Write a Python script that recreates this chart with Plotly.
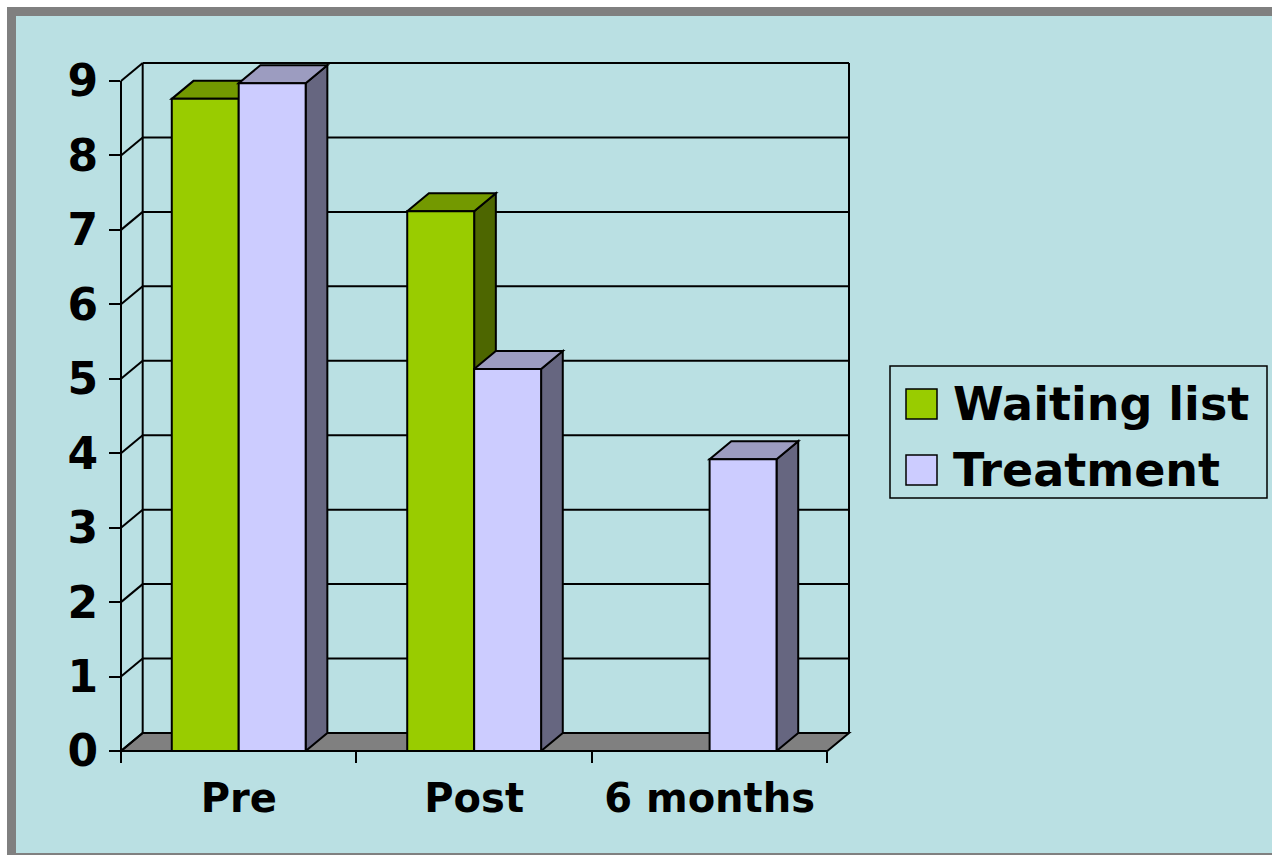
import plotly.graph_objects as go

# ---------------- data ----------------
categories = ["Pre", "Post", "6 months"]
series_names = ["Waiting list", "Treatment"]
waiting_list = [8.76, 7.25, None]
treatment = [8.97, 5.13, 3.92]
y_ticks = [0, 1, 2, 3, 4, 5, 6, 7, 8, 9]

# ---------------- geometry / style ----------------
W, H = 1272, 855
ML, MR, MT, MB = 121, 423, 63, 104
PW, PH = W - ML - MR, H - MT - MB

DX = 0.0921   # 3-D depth, category units
DY = 0.2418   # 3-D depth, value units
NCAT = len(categories)
XMAX = NCAT + DX
YTOP = max(y_ticks)
YMAX = YTOP + DY
BW = 0.2843   # bar width (category units)

COLS = [
    dict(front="#99CC00", top="#739900", side="#4D6600"),
    dict(front="#CCCCFF", top="#9C9CC0", side="#666680"),
]
OFFSETS = [-BW, 0.0]
BG = "#BAE0E3"
FRAME = "#808080"
FLOOR = "#808080"
FONT = "DejaVu Sans"


def px_x(p):
    return (p - ML) / PW


def px_y(p):
    return (H - MB - p) / PH


def X(x):
    return x / XMAX


def Y(y):
    return y / YMAX


shapes = []
# outer slide frame
shapes.append(dict(type="rect", xref="paper", yref="paper", layer="below",
                   x0=px_x(11.5), x1=px_x(W + 20), y0=px_y(11.5), y1=px_y(857.5),
                   line=dict(color=FRAME, width=9), fillcolor=BG))

LINE = dict(color="black", width=2)

# floor
shapes.append(dict(type="path", xref="paper", yref="paper", layer="below",
                   path=f"M{X(0)},{Y(0)} L{X(NCAT)},{Y(0)} L{X(NCAT + DX)},{Y(DY)} L{X(DX)},{Y(DY)} Z",
                   fillcolor=FLOOR, line=LINE))
# back wall gridlines
for v in y_ticks[1:]:
    shapes.append(dict(type="line", xref="paper", yref="paper", layer="below",
                       x0=X(DX), x1=X(NCAT + DX), y0=Y(v + DY), y1=Y(v + DY), line=LINE))
# side wall diagonals
for v in y_ticks:
    shapes.append(dict(type="line", xref="paper", yref="paper", layer="below",
                       x0=X(0), x1=X(DX), y0=Y(v), y1=Y(v + DY), line=LINE))
# wall verticals
for xv in (DX, NCAT + DX):
    shapes.append(dict(type="line", xref="paper", yref="paper", layer="below",
                       x0=X(xv), x1=X(xv), y0=Y(DY), y1=Y(YTOP + DY), line=LINE))
# front value axis line
shapes.append(dict(type="line", xref="paper", yref="paper", layer="below",
                   x0=X(0), x1=X(0), y0=Y(0), y1=Y(YTOP), line=LINE))

# bar tops and sides (3-D faces), computed from the data
centers = [i + 0.5 for i in range(NCAT)]
for i, c in enumerate(centers):
    for s, vals in enumerate([waiting_list, treatment]):
        v = vals[i]
        if v is None:
            continue
        x0 = c + OFFSETS[s]
        x1 = x0 + BW
        shapes.append(dict(type="path", xref="x", yref="y", layer="below",
                           path=f"M{x1},0 L{x1},{v} L{x1 + DX},{v + DY} L{x1 + DX},{DY} Z",
                           fillcolor=COLS[s]["side"], line=LINE))
        shapes.append(dict(type="path", xref="x", yref="y", layer="below",
                           path=f"M{x0},{v} L{x1},{v} L{x1 + DX},{v + DY} L{x0 + DX},{v + DY} Z",
                           fillcolor=COLS[s]["top"], line=LINE))

# manual legend
shapes.append(dict(type="rect", xref="paper", yref="paper", layer="above",
                   x0=px_x(890), x1=px_x(1267), y0=px_y(366), y1=px_y(498),
                   line=dict(color="black", width=1.5), fillcolor="rgba(0,0,0,0)"))
annotations = []
for s, name in enumerate(series_names):
    top = 389 + 66 * s
    shapes.append(dict(type="rect", xref="paper", yref="paper", layer="above",
                       x0=px_x(906), x1=px_x(937), y0=px_y(top), y1=px_y(top + 30),
                       line=dict(color="black", width=1.5), fillcolor=COLS[s]["front"]))
    annotations.append(dict(xref="paper", yref="paper", x=px_x(951), y=px_y(403.5 + 66.5 * s),
                            xanchor="left", yanchor="middle", showarrow=False, text=name,
                            font=dict(family=FONT, size=46, color="black", weight="bold")))

fig = go.Figure()
for s, vals in enumerate([waiting_list, treatment]):
    fig.add_trace(go.Bar(
        x=centers, y=vals, name=series_names[s], width=BW, offset=OFFSETS[s],
        marker=dict(color=COLS[s]["front"], line=dict(color="black", width=2)),
        cliponaxis=False, hoverinfo="skip", showlegend=False,
    ))

fig.update_layout(
    width=W, height=H,
    margin=dict(l=ML, r=MR, t=MT, b=MB, pad=0),
    paper_bgcolor="white", plot_bgcolor="rgba(0,0,0,0)",
    barmode="overlay", showlegend=False,
    shapes=shapes, annotations=annotations,
    xaxis=dict(range=[0, XMAX], tickmode="array", tickvals=centers, ticktext=categories,
               ticks="", showgrid=False, zeroline=False, showline=False,
               ticklabelstandoff=20,
               tickfont=dict(family=FONT, size=40, color="black", weight="bold"),
               minor=dict(tickmode="array", tickvals=list(range(NCAT + 1)), ticks="outside",
                          ticklen=11, tickwidth=2, tickcolor="black", showgrid=False),
               fixedrange=True),
    yaxis=dict(range=[0, YMAX], tickmode="array", tickvals=y_ticks, ticks="outside",
               ticklen=11, tickwidth=2, tickcolor="black", showgrid=False, zeroline=False,
               showline=False, ticklabelstandoff=2,
               tickfont=dict(family=FONT, size=44, color="black", weight="bold"),
               fixedrange=True),
)

fig.write_html("out.html", config={"displayModeBar": False},
               post_script="document.body.style.margin='0';")
